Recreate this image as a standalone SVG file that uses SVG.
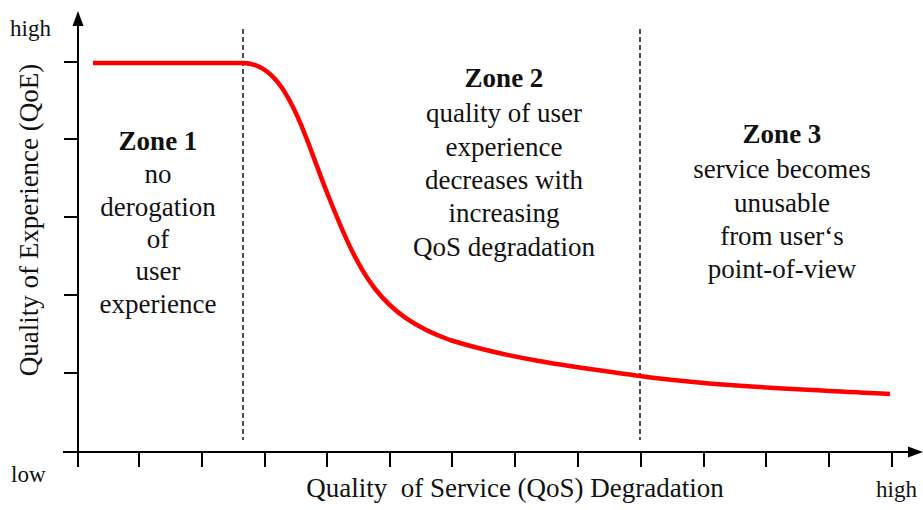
<svg xmlns="http://www.w3.org/2000/svg" width="923" height="510" viewBox="0 0 923 510">
  <style>
    .t { font-family: "Liberation Serif", "Times New Roman", serif; fill: #111; }
    .z { font-size: 27px; text-anchor: middle; }
    .b { font-weight: bold; }
    .ax { stroke: #000; stroke-width: 2; fill: none; }
    .dash { stroke: #222; stroke-width: 1.6; stroke-dasharray: 5 3; fill: none; }
    .curve { stroke: #ff0000; stroke-width: 4.5; fill: none; stroke-linecap: butt; stroke-linejoin: round; }
  </style>
  <rect width="923" height="510" fill="#fff"/>
  <g id="axes">
    <line class="ax" x1="78" y1="453" x2="78" y2="24"/>
    <polygon points="78,11 72.5,26 83.5,26" fill="#000"/>
    <line class="ax" x1="63" y1="452" x2="910" y2="452"/>
    <polygon points="923,452 908,446.5 908,457.5" fill="#000"/>
    <g class="ax">
      <line x1="64" y1="62" x2="78" y2="62"/>
      <line x1="64" y1="139" x2="78" y2="139"/>
      <line x1="64" y1="217" x2="78" y2="217"/>
      <line x1="64" y1="295" x2="78" y2="295"/>
      <line x1="64" y1="373" x2="78" y2="373"/>
      <line x1="78" y1="452" x2="78" y2="467"/>
      <line x1="139" y1="452" x2="139" y2="467"/>
      <line x1="202" y1="452" x2="202" y2="467"/>
      <line x1="265" y1="452" x2="265" y2="467"/>
      <line x1="327" y1="452" x2="327" y2="467"/>
      <line x1="390" y1="452" x2="390" y2="467"/>
      <line x1="452" y1="452" x2="452" y2="467"/>
      <line x1="515" y1="452" x2="515" y2="467"/>
      <line x1="578" y1="452" x2="578" y2="467"/>
      <line x1="641" y1="452" x2="641" y2="467"/>
      <line x1="704" y1="452" x2="704" y2="467"/>
      <line x1="766" y1="452" x2="766" y2="467"/>
      <line x1="829" y1="452" x2="829" y2="467"/>
      <line x1="892" y1="452" x2="892" y2="467"/>
    </g>
    <text class="t" x="10" y="36" font-size="23">high</text>
    <text class="t" x="11" y="482" font-size="23">low</text>
    <text class="t" x="876" y="497" font-size="23">high</text>
    <text class="t" x="515" y="497" font-size="27" text-anchor="middle" xml:space="preserve">Quality  of Service (QoS) Degradation</text>
    <text class="t" font-size="27" text-anchor="middle" transform="translate(38,220) rotate(-90)">Quality of Experience (QoE)</text>
  </g>
  <g id="connectors">
    <line class="dash" x1="243" y1="29" x2="243" y2="440"/>
    <line class="dash" x1="640" y1="29" x2="640" y2="440"/>
    <path class="curve" d="M93,63 L243,63 C288,63 305,140 330,200 C360,275 380,315 450,340 C520,362 600,370 640,376 C720,387 820,390 890,394"/>
  </g>
  <g id="zone1">
    <text class="t z b" x="158" y="150">Zone 1</text>
    <text class="t z" x="158" y="183">no</text>
    <text class="t z" x="158" y="216">derogation</text>
    <text class="t z" x="158" y="248">of</text>
    <text class="t z" x="158" y="280">user</text>
    <text class="t z" x="158" y="313">experience</text>
  </g>
  <g id="zone2">
    <text class="t z b" x="504" y="87">Zone 2</text>
    <text class="t z" x="504" y="122">quality of user</text>
    <text class="t z" x="504" y="156">experience</text>
    <text class="t z" x="504" y="189">decreases with</text>
    <text class="t z" x="504" y="222">increasing</text>
    <text class="t z" x="504" y="256">QoS degradation</text>
  </g>
  <g id="zone3">
    <text class="t z b" x="782" y="143">Zone 3</text>
    <text class="t z" x="782" y="178">service becomes</text>
    <text class="t z" x="782" y="212">unusable</text>
    <text class="t z" x="782" y="245">from user‘s</text>
    <text class="t z" x="782" y="278">point-of-view</text>
  </g>
</svg>
